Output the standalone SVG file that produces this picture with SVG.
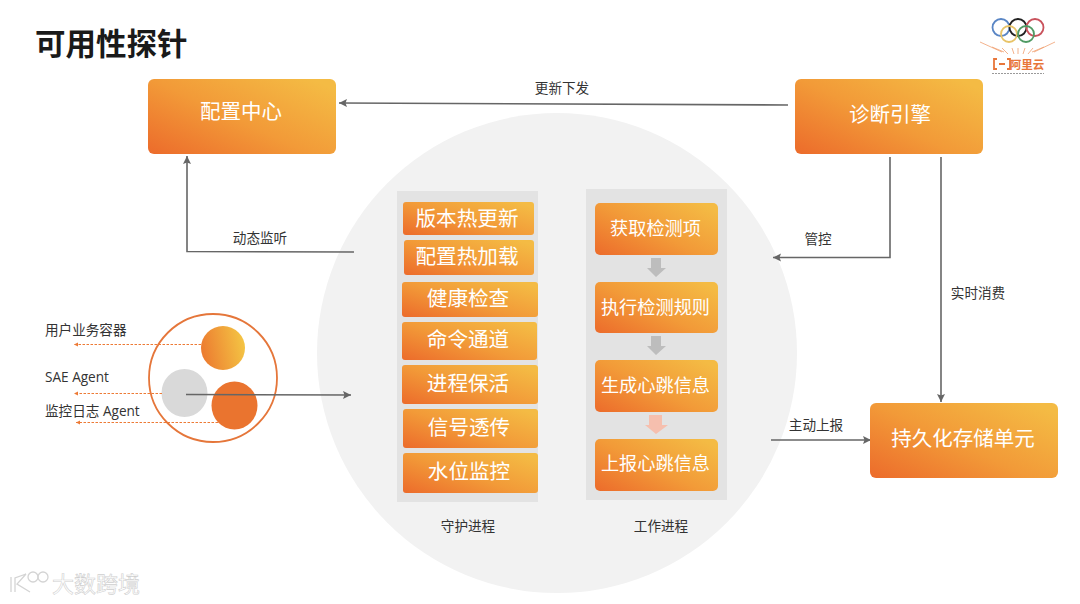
<svg xmlns="http://www.w3.org/2000/svg" width="1080" height="604" viewBox="0 0 1080 604">
<style>
text{font-family:"Open Sans","Noto Sans CJK SC",sans-serif;text-anchor:middle}
.t{font-size:13.6px;fill:#333}
.l{text-anchor:start}
.b{fill:url(#g)}
.w{fill:#fff;font-size:20.600px}
.x{fill:#fff;font-size:18.200px}
.m{fill:#fff;font-size:20.500px}
.c{fill:none;stroke:#666;stroke-width:1.600}
.d{fill:none;stroke:#ed7a35;stroke-width:1;stroke-dasharray:2.5 1.5}
.ar{fill:#bdbdbd}
.ring{fill:none;stroke-width:1.800}
.ray{stroke:#f0a070;stroke-width:.8}
.wm{fill:none;stroke:#d4d4d4;stroke-width:1.300}
</style>
<defs>
<linearGradient id="g" x1="0" y1="1" x2="1" y2="0.15"><stop offset="0" stop-color="#ec6b2b"/><stop offset=".5" stop-color="#f29a38"/><stop offset="1" stop-color="#f4bb44"/></linearGradient>
<linearGradient id="g2" x1="0" y1="0.6" x2="1" y2="0.4"><stop offset="0" stop-color="#ec7a30"/><stop offset="1" stop-color="#f4c544"/></linearGradient>
<marker id="a" markerUnits="userSpaceOnUse" markerWidth="10" markerHeight="10" refX="8" refY="4" orient="auto"><path d="M0 0L8 4L0 8L1.500 4Z" fill="#666"/></marker>
<marker id="s" markerUnits="userSpaceOnUse" markerWidth="6" markerHeight="6" refX="4" refY="2" orient="auto"><path d="M0 0L4 2L0 4Z" fill="#ed7a35"/></marker>
</defs>
<rect width="1080" height="604" fill="#fff"/>
<text x="35" y="55" class="l" style="font-size:30.500px;font-weight:700;fill:#1a1a1a">可用性探针</text>
<g id="logo">
<circle class="ring" cx="1001" cy="27.500" r="8.500" stroke="#5a86c5"/>
<circle class="ring" cx="1018" cy="27.500" r="8.500" stroke="#222"/>
<circle class="ring" cx="1035" cy="27.500" r="8.500" stroke="#c9525c"/>
<circle class="ring" cx="1009" cy="34" r="8" stroke="#e8c468"/>
<circle class="ring" cx="1026" cy="34" r="8" stroke="#4f9a63"/>
<path class="ray" d="M980 42L1002 52M992 47L1004 52M1002 48L1008 54M1012 48L1014 54M1018 48V54M1025 48L1023 54M1033 48L1028 54M1044 47L1032 52M1055 42L1034 52"/>
<path fill="none" stroke="#e8763a" stroke-width="1.800" d="M997 59H994V69H997M1007 59H1010V69H1007M999 64H1005"/>
<text x="1027" y="69" style="font-size:11.500px;font-weight:700;fill:#e8763a">阿里云</text>
<path d="M992 73.500H1044" stroke="#9a9a9a" stroke-width="1.200" stroke-dasharray="2 1"/>
</g>
<g id="hub"><circle cx="557" cy="353" r="240" fill="#f2f2f2"/></g>
<g id="guard-panel"><rect x="397" y="191" width="141" height="311" fill="#e3e3e3"/></g>
<g id="work-panel"><rect x="586" y="189" width="141" height="311" fill="#e3e3e3"/></g>

<g id="pod">
<circle cx="213" cy="378" r="64" fill="#fff" stroke="#e5763a" stroke-width="1.800"/>
<circle cx="223" cy="348" r="22" fill="url(#g2)"/>
<ellipse cx="184.500" cy="393" rx="23" ry="24" fill="#d9d9d9"/>
<ellipse cx="234.500" cy="405.500" rx="23" ry="24" fill="#ea742f"/>
<path class="d" marker-end="url(#s)" d="M201 344.500H74"/>
<path class="d" marker-end="url(#s)" d="M162 393.500H74"/>
<path class="d" marker-end="url(#s)" d="M218 422.500H76"/>
<text x="45" y="335" class="t l">用户业务容器</text>
<text x="45" y="382" class="t l">SAE Agent</text>
<text x="45" y="416" class="t l">监控日志 Agent</text>
</g>

<g id="connectors">
<path class="c" marker-end="url(#a)" d="M788 105L339 103"/>
<path class="c" marker-end="url(#a)" d="M354 252L187 251.500V156"/>
<path class="c" marker-end="url(#a)" d="M890 157V257.500H773"/>
<path class="c" marker-end="url(#a)" d="M941 157V402"/>
<path class="c" marker-end="url(#a)" d="M771 440H871"/>
<path class="c" marker-end="url(#a)" d="M186 394.500L351 395"/>
</g>
<g id="edge-labels">
<text x="562" y="93" class="t">更新下发</text>
<text x="260" y="243" class="t">动态监听</text>
<text x="818" y="244" class="t">管控</text>
<text x="978" y="298" class="t">实时消费</text>
<text x="816" y="430" class="t">主动上报</text>
</g>

<g id="n-config"><rect class="b" x="148" y="79" width="188" height="75" rx="6"/><text class="m" x="241" y="119">配置中心</text></g>
<g id="n-diag"><rect class="b" x="795" y="79" width="188" height="75" rx="6"/><text class="m" x="890" y="122">诊断引擎</text></g>
<g id="n-store"><rect class="b" x="870" y="403" width="188" height="75" rx="6"/><text class="m" x="963" y="446">持久化存储单元</text></g>

<g id="n1"><rect class="b" x="403" y="202" width="131" height="33" rx="3"/><text class="w" x="467" y="225.500">版本热更新</text></g>
<g id="n2"><rect class="b" x="404" y="240" width="130" height="35" rx="3"/><text class="w" x="467" y="263.500">配置热加载</text></g>
<g id="n3"><rect class="b" x="402" y="282" width="136" height="35" rx="3"/><text class="w" x="468" y="305.500">健康检查</text></g>
<g id="n4"><rect class="b" x="402" y="322" width="135" height="38" rx="3"/><text class="w" x="468" y="347">命令通道</text></g>
<g id="n5"><rect class="b" x="402" y="365" width="136" height="39" rx="3"/><text class="w" x="468" y="391">进程保活</text></g>
<g id="n6"><rect class="b" x="403" y="409" width="135" height="39" rx="3"/><text class="w" x="469" y="435">信号透传</text></g>
<g id="n7"><rect class="b" x="403" y="453" width="135" height="40" rx="3"/><text class="w" x="469" y="479">水位监控</text></g>

<g id="w1"><rect class="b" x="595" y="203" width="123" height="52" rx="5"/><text class="x" x="655.500" y="235">获取检测项</text></g>
<g id="w2"><rect class="b" x="595" y="282" width="123" height="51" rx="5"/><text class="x" x="655.500" y="314">执行检测规则</text></g>
<g id="w3"><rect class="b" x="595" y="360" width="123" height="52" rx="5"/><text class="x" x="655.500" y="392">生成心跳信息</text></g>
<g id="w4"><rect class="b" x="595" y="439" width="123" height="52" rx="5"/><text class="x" x="655.500" y="470">上报心跳信息</text></g>
<path class="ar" d="M651 258H661V268H666L656 277L647 268H651Z"/>
<path class="ar" d="M651 336H661V346H666L656 355L647 346H651Z"/>
<path fill="#f6bfae" d="M649 415H662V425H668L656 434L645 425H649Z"/>
<text x="468" y="531" class="t">守护进程</text>
<text x="661" y="531" class="t">工作进程</text>

<g id="watermark">
<path class="wm" d="M11 577V592M15 592V578L26 574M26 574L17 584L30 592"/>
<circle class="wm" cx="33" cy="577" r="5"/>
<circle class="wm" cx="43" cy="577" r="5"/>
<text x="96" y="591.500" style="font-size:22px;fill:#fff;stroke:#cfcfcf;stroke-width:.6">大数跨境</text>
</g>
</svg>
